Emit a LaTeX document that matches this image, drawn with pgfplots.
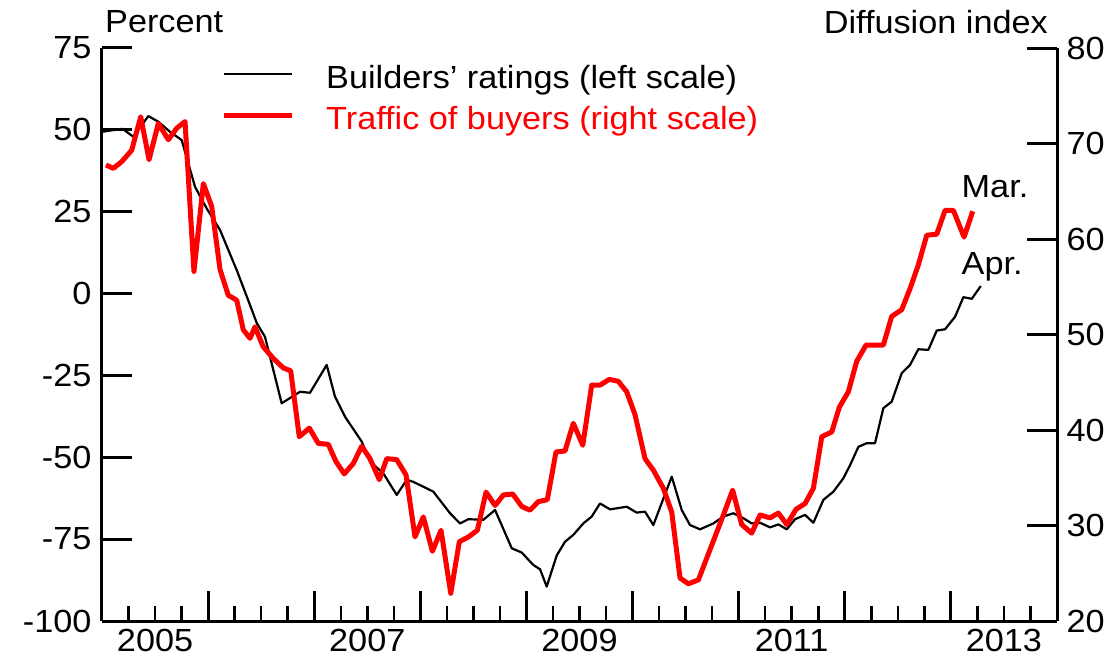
\documentclass[border=0pt]{standalone}
\usepackage{fontspec}
\setmainfont{Liberation Sans}[FakeStretch=1.07]
\usepackage{pgfplots}
\pgfplotsset{compat=1.18}

% x is months since Jan 2005 (0 = Jan 2005, 108 = Jan 2014)
\pgfplotsset{
  chartbase/.style={
    scale only axis, width=955pt, height=573pt,
    xmin=0, xmax=108,
    clip mode=individual,
    axis line style={line width=3pt, -},
    tick align=inside,
    major tick length=30pt, minor tick length=15pt,
    every major tick/.append style={line width=3pt, black},
    every minor tick/.append style={line width=2.5pt, black},
    tick label style={font=\fontsize{32}{38}\selectfont},
    /pgf/number format/assume math mode=true,
  },
}

\begin{document}
\begin{tikzpicture}
\path[use as bounding box] (-102pt,-38pt) rectangle (1017pt,621pt);

\begin{axis}[chartbase,
  ymin=-100, ymax=75,
  axis x line*=bottom, axis y line*=left,
  xtick={12,24,...,108},
  xticklabels={2005,,2007,,2009,,2011,,2013},
  xticklabel style={xshift=-53.06pt, yshift=-5pt},
  minor xtick={3,6,...,105},
  ytick={-100,-75,...,75},
  yticklabel style={xshift=-7pt},
  legend cell align=left,
  legend image code/.code={\draw[#1] (0pt,3.5pt) -- (68pt,3.5pt);},
  legend style={at={(rel axis cs:0.1246,0.971)}, anchor=north west,
    draw=none, fill=none, inner sep=0pt, row sep=17pt,
    font=\fontsize{32}{38}\selectfont,
    nodes={inner sep=0pt},
    /tikz/every odd column/.append style={column sep=32pt}},
]
\addplot[black, line width=2.2pt, line join=round] coordinates {
(0,49.4)(1.47,50.0)(2.34,50.3)(2.79,49.4)(3.54,47.9)(5.24,54.2)(6.37,52.5)(7.69,49.4)(9.01,46.9)
(10.52,32.6)(11.84,26.0)(13.35,19.4)(15.23,7.2)(16.74,-3.5)(17.5,-9.0)(18.43,-13.2)(20.32,-33.5)
(22.39,-30.0)(23.52,-30.3)(25.41,-21.8)(26.35,-31.5)(27.48,-37.6)(29.37,-45.2)(30.31,-51.3)
(31.81,-54.9)(33.33,-61.5)(34.46,-56.9)(35.21,-57.5)(37.47,-60.5)(39.36,-67.1)(40.49,-70.2)
(41.43,-68.9)(43.12,-69.1)(44.45,-66.1)(46.34,-77.8)(47.47,-79.1)(48.78,-82.9)(49.54,-84.2)
(50.29,-89.5)(51.42,-80.0)(52.36,-75.8)(53.30,-73.7)(54.43,-70.2)(55.38,-68.1)(56.32,-64.1)
(57.45,-65.9)(59.34,-65.1)(60.47,-66.9)(61.41,-66.6)(62.35,-70.7)(64.43,-55.9)(65.56,-66.1)
(66.50,-70.7)(67.63,-72.0)(69.14,-70.2)(70.27,-68.1)(71.40,-67.1)(72.53,-68.6)(73.48,-70.2)
(74.42,-70.0)(75.55,-71.4)(76.49,-70.5)(77.44,-72.0)(78.38,-68.9)(79.51,-67.6)(80.45,-70.0)
(81.58,-63.0)(82.71,-60.5)(83.84,-56.4)(84.60,-52.4)(85.54,-46.8)(86.48,-45.7)(87.42,-45.7)
(88.36,-35.0)(89.31,-33.0)(90.44,-24.3)(91.38,-21.8)(92.32,-17.0)(93.45,-17.2)(94.40,-11.3)
(95.34,-10.9)(96.47,-7.1)(97.41,-1.1)(98.36,-1.6)(99.38,2.3)
};
\addlegendentry{Builders’ ratings (left scale)}
\addlegendimage{red, line width=5pt}
\addlegendentry{\textcolor{red}{Traffic of buyers (right scale)}}

\node[anchor=base west, inner sep=0pt, font=\fontsize{32}{38}\selectfont]
  at (rel axis cs:0,1) [xshift=3pt, yshift=15pt] {Percent};
\node[anchor=base west, inner sep=0pt, font=\fontsize{32}{38}\selectfont]
  at (axis cs:97.2,29.2) {Mar.};
\node[anchor=base west, inner sep=0pt, font=\fontsize{32}{38}\selectfont]
  at (axis cs:97.2,5.7) {Apr.};
\end{axis}

\begin{axis}[chartbase,
  ymin=20, ymax=80,
  axis x line=none, axis y line*=right,
  ytick={20,30,...,80},
  yticklabel style={xshift=6pt},
]
\addplot[red, line width=5pt, line join=round] coordinates {
(0.45,67.75)(1.28,67.4)(2.23,68.1)(3.36,69.3)(4.38,72.8)(5.32,68.3)(6.37,72.1)(7.50,70.4)
(8.45,71.6)(9.39,72.3)(10.40,56.6)(11.46,65.8)(12.41,63.4)(13.35,56.8)(14.28,54.1)(15.23,53.6)
(15.98,50.5)(16.74,49.6)(17.30,50.8)(18.24,48.7)(19.37,47.5)(20.50,46.5)(21.34,46.2)(22.31,39.3)
(23.45,40.2)(24.46,38.6)(25.59,38.5)(26.46,36.7)(27.40,35.4)(28.42,36.5)(29.37,38.3)(30.31,37.0)
(31.36,34.8)(32.20,37.0)(33.33,36.9)(34.38,35.3)(35.40,28.8)(36.34,30.9)(37.36,27.3)(38.34,29.5)
(39.44,22.9)(40.41,28.3)(41.43,28.8)(42.45,29.5)(43.43,33.5)(44.45,32.1)(45.39,33.2)(46.45,33.3)
(47.47,32.0)(48.40,31.6)(49.34,32.5)(50.36,32.7)(51.34,37.7)(52.36,37.8)(53.30,40.7)(54.37,38.4)
(55.38,44.7)(56.32,44.7)(57.37,45.3)(58.39,45.1)(59.34,44.0)(60.28,41.6)(61.41,37.0)(62.35,35.8)
(63.48,33.9)(64.43,31.4)(65.37,24.5)(66.31,23.9)(67.44,24.3)(70.27,31.1)(71.32,33.7)(72.34,30.1)
(73.47,29.2)(74.42,31.1)(75.55,30.8)(76.49,31.3)(77.44,30.1)(78.49,31.7)(79.51,32.3)(80.45,33.9)
(81.40,39.3)(82.53,39.8)(83.39,42.4)(84.40,44.0)(85.35,47.2)(86.41,48.9)(88.36,48.9)(89.31,51.9)
(90.44,52.6)(91.38,54.8)(92.32,57.3)(93.27,60.4)(94.40,60.5)(95.34,63.0)(96.28,63.0)(97.49,60.2)
(98.47,62.9)
};
\node[anchor=base east, inner sep=0pt, font=\fontsize{32}{38}\selectfont]
  at (rel axis cs:1,1) [xshift=-9pt, yshift=15pt] {Diffusion index};
\end{axis}
\end{tikzpicture}
\end{document}
